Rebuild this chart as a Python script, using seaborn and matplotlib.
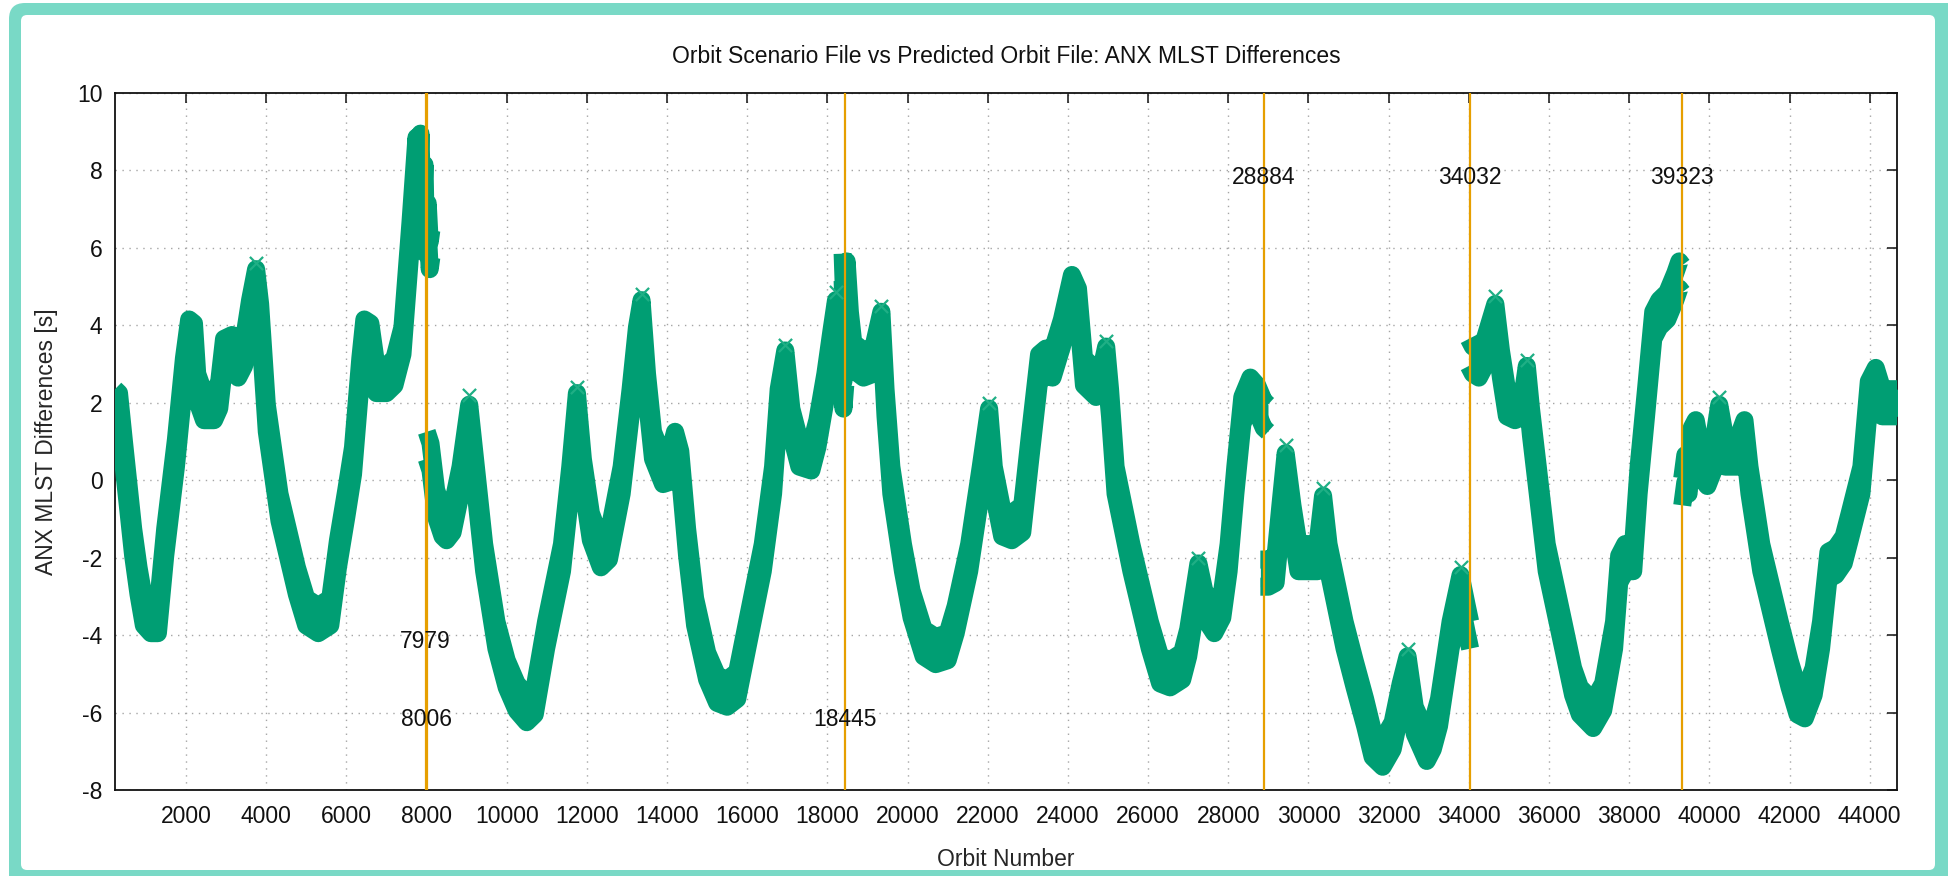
import numpy as np
import pandas as pd
import matplotlib
matplotlib.use("Agg")
import matplotlib.pyplot as plt
import seaborn as sns
from matplotlib.patches import FancyBboxPatch
from matplotlib.transforms import IdentityTransform

# ---------------- data ----------------
TITLE = "Orbit Scenario File vs Predicted Orbit File: ANX MLST Differences"
XLABEL = "Orbit Number"
YLABEL = "ANX MLST Differences [s]"

x_ticks = list(range(2000, 44001, 2000))
y_ticks = list(range(-8, 11, 2))

event_orbits = [7979, 8006, 18445, 28884, 34032, 39323]
event_label_y = [-4, -6, -6, 8, 8, 8]

seg1_orbit = [230, 330, 458, 683, 817, 950, 1125, 1300, 1483, 1750, 1950, 2080, 2200, 2280,
              2450, 2700, 2830, 2950, 3150, 3300, 3450, 3600, 3750, 3850, 4017, 4333, 4767,
              5000, 5300, 5600, 5792, 6000, 6167, 6350, 6450, 6600, 6750, 7000, 7200, 7400,
              7600, 7750, 7800, 7850, 7900, 7950, 7979, 8030, 8080, 8120]
seg1_mlst = [2.0, 1.9, 0.6, -1.6, -2.6, -3.4, -3.6, -3.6, -1.6, 0.7, 2.8, 3.8, 3.7, 2.4,
             1.9, 1.9, 2.2, 3.3, 3.4, 3.0, 3.3, 4.3, 5.1, 4.2, 1.6, -0.7, -2.6,
             -3.4, -3.6, -3.4, -1.9, -0.6, 0.5, 2.8, 3.8, 3.7, 2.6, 2.6, 2.8, 3.6,
             6.3, 8.5, 7.0, 8.6, 6.4, 7.8, 6.2, 6.8, 5.8, 6.1]

seg2_orbit = [8006, 8100, 8240, 8400, 8500, 8650, 8850, 9066, 9200, 9438, 9744, 10000, 10250,
              10500, 10700, 10983, 11380, 11587, 11752, 11900, 12100, 12350, 12550, 12700,
              12868, 13091, 13250, 13364, 13500, 13650, 13900, 14050, 14200, 14330, 14500,
              14700, 15000, 15250, 15500, 15750, 16000, 16388, 16645, 16785, 16950, 17100,
              17300, 17600, 17750, 17950, 18100, 18215, 18280, 18330, 18400, 18445]
seg2_mlst = [0.9, 0.6, -0.6, -1.1, -1.2, -1.0, 0.0, 1.6, 0.3, -2.0, -4.0, -5.0, -5.6,
             -5.9, -5.7, -4.0, -2.0, 0.0, 1.9, 0.2, -1.2, -1.9, -1.7, -0.9,
             0.0, 2.0, 3.6, 4.3, 2.4, 0.9, 0.25, 0.3, 0.9, 0.4, -1.6,
             -3.4, -4.8, -5.4, -5.5, -5.3, -4.0, -2.0, 0.0, 2.0, 3.0, 1.5,
             0.7, 0.6, 1.2, 2.4, 3.5, 4.3, 2.6, 3.6, 2.2, 2.8]

seg3_orbit = [18380, 18430, 18480, 18560, 18645, 18900, 19150, 19347, 19450, 19595, 19884,
              20100, 20400, 20700, 21000, 21200, 21537, 21826, 22033, 22150, 22360, 22600,
              22860, 23050, 23280, 23450, 23615, 23850, 24100, 24250, 24400, 24700, 24850,
              24954, 25050, 25188, 25582, 26042, 26300, 26550, 26850, 27000, 27255, 27400,
              27650, 27850, 28008, 28176, 28350, 28550, 28720, 28884, 28990]
seg3_mlst = [5.5, 4.0, 5.3, 4.0, 3.2, 3.0, 3.1, 4.0, 2.0, 0.0, -2.0,
             -3.2, -4.2, -4.4, -4.3, -3.6, -2.0, 0.0, 1.5, 0.0, -1.1, -1.2,
             -1.0, 0.8, 2.9, 3.05, 3.0, 3.8, 4.95, 4.6, 2.8, 2.5, 2.6,
             3.1, 2.0, 0.0, -2.0, -4.0, -4.9, -5.0, -4.8, -4.2, -2.5, -3.2,
             -3.6, -3.2, -2.0, 0.0, 1.8, 2.3, 2.1, 1.7, 1.6]

seg4_orbit = [28800, 29000, 29180, 29300, 29431, 29600, 29750, 30000, 30226, 30364, 30500,
              30700, 30900, 31150, 31413, 31600, 31850, 32100, 32300, 32471, 32650, 32950,
              33100, 33256, 33545, 33793, 33950, 34032]
seg4_mlst = [-2.4, -2.4, -2.3, -1.0, 0.35, -1.0, -2.0, -2.0, -2.0, -0.75, -2.0,
             -3.0, -4.0, -5.0, -6.0, -6.8, -7.05, -6.6, -5.6, -4.9, -6.2, -6.9,
             -6.6, -6.0, -4.0, -2.8, -3.6, -4.0]

seg5_orbit = [34000, 34100, 34250, 34400, 34661, 34800, 34950, 35150, 35364, 35446, 35550,
              35719, 35942, 36355, 36600, 36769, 37100, 37350, 37623, 37750, 37900, 38100,
              38235, 38420, 38600, 38750, 38950, 39150, 39250, 39323]
seg5_mlst = [3.3, 3.1, 3.0, 3.3, 4.2, 3.0, 2.0, 1.9, 2.0, 2.6, 1.5,
             0.0, -2.0, -4.0, -5.2, -5.7, -6.05, -5.6, -4.0, -2.3, -2.0, -2.0,
             0.0, 2.0, 4.0, 4.3, 4.5, 5.0, 5.3, 5.2]

seg6_orbit = [39323, 39400, 39480, 39560, 39660, 39800, 39950, 40100, 40246, 40400, 40550,
              40700, 40875, 41000, 41294, 41755, 42000, 42200, 42380, 42600, 42786, 42970,
              43150, 43350, 43500, 43792, 43977, 44150, 44312, 44500, 44692]
seg6_mlst = [-0.3, 0.3, 0.0, 1.0, 1.2, 0.4, 0.2, 0.6, 1.6, 0.7, 0.7,
             0.7, 1.2, 0.0, -2.0, -4.0, -5.0, -5.7, -5.8, -5.2, -4.0, -2.2,
             -2.1, -1.8, -1.2, 0.0, 2.2, 2.55, 2.0, 2.0, 2.0]

peak_orbit = [3750, 9066, 11752, 13364, 16950, 18215, 19347, 22033, 24954, 27255,
              29431, 30364, 32471, 33793, 34661, 35446, 40246]
peak_mlst = [5.6, 2.2, 2.4, 4.8, 3.5, 4.85, 4.5, 2.0, 3.6, -2.0,
             0.9, -0.2, -4.35, -2.25, 4.75, 3.1, 2.15]

# ---------------- style ----------------
GREEN = "#009E73"
ORANGE = "#E69F00"
TEAL = "#79D9C6"
BAND = 0.35         # half thickness of the drawn point cloud (style)
EDGE_LW = 13        # stroke width of the cloud outline (style)
FS = 16.5

sns.set_theme(style="white")
plt.rcParams["font.family"] = ["Liberation Sans", "DejaVu Sans"]
plt.rcParams["text.color"] = "#111111"

fig = plt.figure(figsize=(19.49, 8.76), dpi=100)
fig.patch.set_facecolor("white")

# teal rounded frame
fig.patches.append(FancyBboxPatch((9, -30), 1980, 903,
                                  boxstyle="round,pad=0,rounding_size=16",
                                  transform=IdentityTransform(), facecolor=TEAL,
                                  edgecolor="none", zorder=-10))
fig.patches.append(FancyBboxPatch((21, 6), 1914, 855,
                                  boxstyle="round,pad=0,rounding_size=6",
                                  transform=IdentityTransform(), facecolor="white",
                                  edgecolor="none", zorder=-9))

ax = fig.add_axes([0.0590, 0.0982, 0.91457, 0.79566])
ax.set_facecolor("white")

segments = [(seg1_orbit, seg1_mlst), (seg2_orbit, seg2_mlst), (seg3_orbit, seg3_mlst),
            (seg4_orbit, seg4_mlst), (seg5_orbit, seg5_mlst), (seg6_orbit, seg6_mlst)]

for orb, val in segments:
    df = pd.DataFrame({"orbit": orb, "mlst": val})
    lo = df["mlst"] - BAND
    hi = df["mlst"] + BAND
    ax.fill_between(df["orbit"], lo, hi, color=GREEN, linewidth=0, zorder=3)
    for edge in (lo, hi):
        sns.lineplot(x=df["orbit"], y=edge, ax=ax, color=GREEN, linewidth=EDGE_LW,
                     estimator=None, sort=False, zorder=3, legend=False,
                     solid_joinstyle="round", solid_capstyle="butt")

peaks = pd.DataFrame({"orbit": peak_orbit, "mlst": peak_mlst})
sns.scatterplot(data=peaks, x="orbit", y="mlst", ax=ax, marker="x", s=90,
                color="#1FAF85", linewidth=1.6, zorder=4, legend=False)

for orb, ly in zip(event_orbits, event_label_y):
    ax.axvline(orb, color=ORANGE, linewidth=1.6, zorder=5)
    ax.text(orb, ly - 0.17, str(orb), ha="center", va="center", fontsize=FS,
            color="#111111", zorder=6)

ax.set_xlim(230, 44692)
ax.set_ylim(-8, 10)
ax.set_xticks(x_ticks)
ax.set_yticks(y_ticks)
ax.set_xticklabels([str(t) for t in x_ticks])
ax.set_yticklabels([str(t) for t in y_ticks])

ax.grid(True, linestyle=(0, (1, 4)), color="#a5a5a5", linewidth=1.0, zorder=0)
ax.set_axisbelow(True)
ax.tick_params(direction="in", length=7.5, width=1.1, top=True, right=True,
               labelsize=FS, colors="#111111")
ax.tick_params(axis="x", pad=11)
ax.tick_params(axis="y", pad=9)
for sp in ax.spines.values():
    sp.set_visible(True)
    sp.set_color("#111111")
    sp.set_linewidth(1.3)

ax.set_xlabel(XLABEL, fontsize=FS)
ax.set_ylabel(YLABEL, fontsize=FS)
ax.xaxis.set_label_coords(0.5, -0.083)
ax.yaxis.set_label_coords(-0.032, 0.5)

fig.text(0.5165, 0.936, TITLE, ha="center", va="center", fontsize=FS, color="#111111")

fig.savefig("out.png", dpi=100)
